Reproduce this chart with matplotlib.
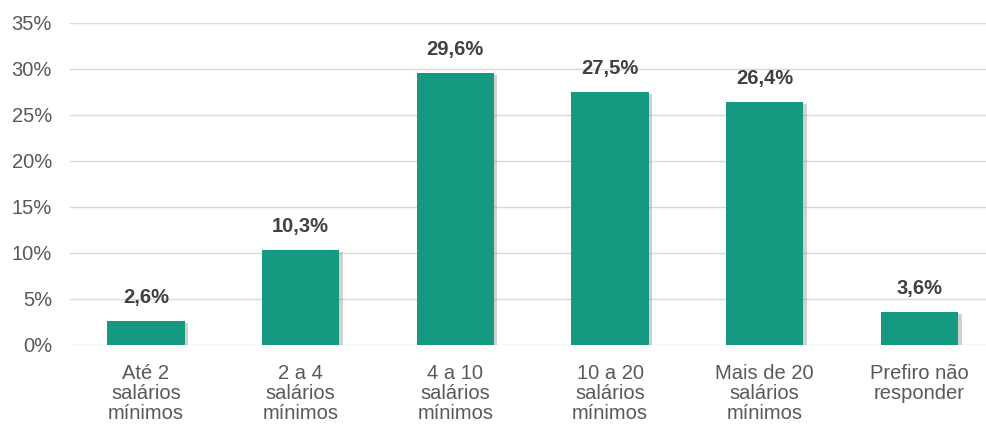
import matplotlib
matplotlib.use("Agg")
import matplotlib.pyplot as plt
import matplotlib.patheffects as pe

categories = ["Até 2\nsalários\nmínimos", "2 a 4\nsalários\nmínimos", "4 a 10\nsalários\nmínimos",
              "10 a 20\nsalários\nmínimos", "Mais de 20\nsalários\nmínimos", "Prefiro não\nresponder"]
values = [2.6, 10.3, 29.6, 27.5, 26.4, 3.6]
value_labels = ["2,6%", "10,3%", "29,6%", "27,5%", "26,4%", "3,6%"]
yticks = [0, 5, 10, 15, 20, 25, 30, 35]

plt.rcParams['font.family'] = ['Liberation Sans', 'DejaVu Sans']

fig = plt.figure(figsize=(9.86, 4.26), dpi=100)
ax = fig.add_axes([70/986, 81/426, 1 - 70/986, (345-23)/426])

x = list(range(len(categories)))
bars = ax.bar(x, values, width=0.5, color="#139A81", zorder=3)
for b in bars:
    b.set_path_effects([pe.SimplePatchShadow(offset=(2.5, -1.5), shadow_rgbFace="#999999", alpha=0.45), pe.Normal()])

for xi, v, lab in zip(x, values, value_labels):
    ax.annotate(lab, (xi, v), xytext=(0, 10), textcoords="offset points", ha="center", va="bottom",
                fontsize=14.5, fontweight="bold", color="#404040")

ax.set_xlim(-0.49, 5.43)
ax.set_ylim(0, 35)
ax.set_yticks(yticks)
ax.set_yticklabels([f"{t}%" for t in yticks], fontsize=14.5, color="#595959")
ax.set_xticks(x)
ax.set_xticklabels(categories, fontsize=14.5, color="#595959", linespacing=1.05)
ax.tick_params(axis="both", length=0)
ax.tick_params(axis="y", pad=13)
ax.tick_params(axis="x", pad=14)
ax.grid(axis="y", color="#d9d9d9", linewidth=1, zorder=0)
for s in ax.spines.values():
    s.set_visible(False)

fig.savefig("out.png", dpi=100)
